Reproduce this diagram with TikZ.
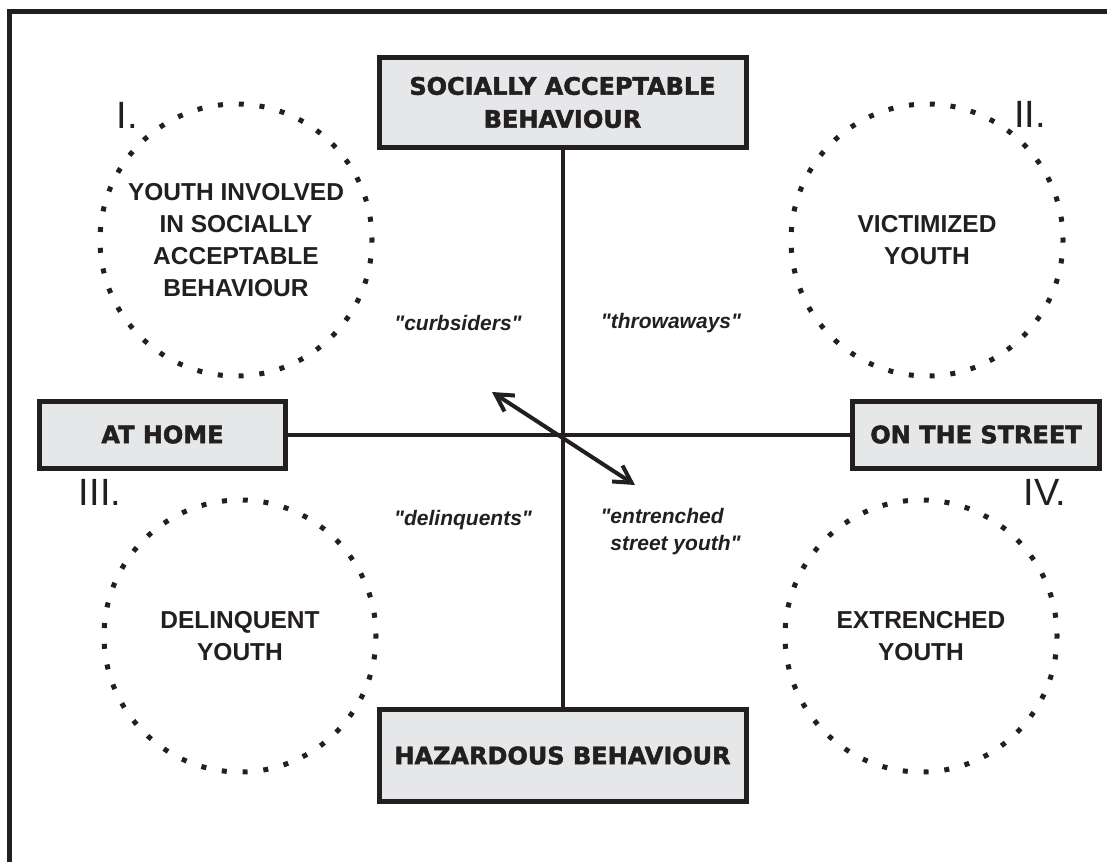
\documentclass[tikz,border=0pt]{standalone}
\usepackage{fontspec}
\setmainfont{Liberation Sans}[Ligatures=TeXOff]
\newfontfamily\heavyfont{DejaVu Sans}[BoldFeatures={FakeBold=2}]
\usetikzlibrary{arrows.meta}
\definecolor{ink}{HTML}{231F20}
\definecolor{boxgrey}{HTML}{E6E7E8}

\begin{document}
\begin{tikzpicture}[x=1pt, y=-1pt, >={Straight Barb[length=17pt, width=19pt]},
    every node/.style={text=ink},
    axisbox/.style={draw=ink, fill=boxgrey, line width=5pt, rectangle, align=center,
        inner sep=0pt, font=\heavyfont\bfseries\fontsize{24}{33}\selectfont},
    ring/.style={circle, draw=ink, line width=5pt, dash pattern=on 5pt off 15.84pt,
        dash phase=2.5pt, minimum size=272pt, inner sep=0pt, align=center,
        font=\bfseries\fontsize{24.5}{32}\selectfont},
    tag/.style={font=\bfseries\itshape\fontsize{21}{27}\selectfont},
    numeral/.style={font=\fontsize{38}{38}\selectfont, inner sep=0pt}]
                % Khung
                \clip (0,0) rectangle (1107,861);
                \fill[white] (0,0) rectangle (1107,861);
                \draw[ink, line width=5pt] (9.5,900) -- (9.5,11.5) -- (1150,11.5);
                
                % Hai trục
                \node[axisbox, minimum width=367pt, minimum height=90pt] (social) at (562.5,102.5)
                    {SOCIALLY ACCEPTABLE\\BEHAVIOUR};
                \node[axisbox, minimum width=367pt, minimum height=92pt] (hazard) at (562.5,755.5)
                    {HAZARDOUS BEHAVIOUR};
                \node[axisbox, minimum width=246pt, minimum height=67pt] (home) at (162.5,434.5) {AT HOME};
                \node[axisbox, minimum width=247pt, minimum height=67pt] (street) at (976,434.5) {ON THE STREET};
                \draw[ink, line width=4pt] (home) -- (street);
                \draw[ink, line width=4pt] (social) -- (hazard);
                
                % Bốn nhóm
                \node[ring] (qone) at (236,240) {YOUTH INVOLVED\\IN SOCIALLY\\ACCEPTABLE\\BEHAVIOUR};
                \node[ring] (qtwo) at (927,240) {VICTIMIZED\\YOUTH};
                \node[ring] (qthree) at (240,636) {DELINQUENT\\YOUTH};
                \node[ring] (qfour) at (921,636) {EXTRENCHED\\YOUTH};
                
                % Số La Mã
                \node[numeral] (nI) at (127,115) {I.};
                \node[numeral] (nII) at (1030,114) {II.};
                \node[numeral] (nIII) at (100,492) {III.};
                \node[numeral] (nIV) at (1045,492) {IV.};
                
                % Nhãn
                \node[tag] (curb) at (458,323) {"curbsiders"};
                \node[tag] (throw) at (671,323) {"throwaways"};
                \node[tag] (delin) at (463,520) {"delinquents"};
                \node[tag, align=left, anchor=north west] (entr) at (597,505)
                    {"entrenched\\\hphantom{"}street youth"};
                
                % Mũi tên chéo
                \coordinate (cs) at (492,392);
                \coordinate (es) at (635,485);
                \draw[<->, ink, line width=4pt] (cs) -- (es);
            \end{tikzpicture}
\end{document}
